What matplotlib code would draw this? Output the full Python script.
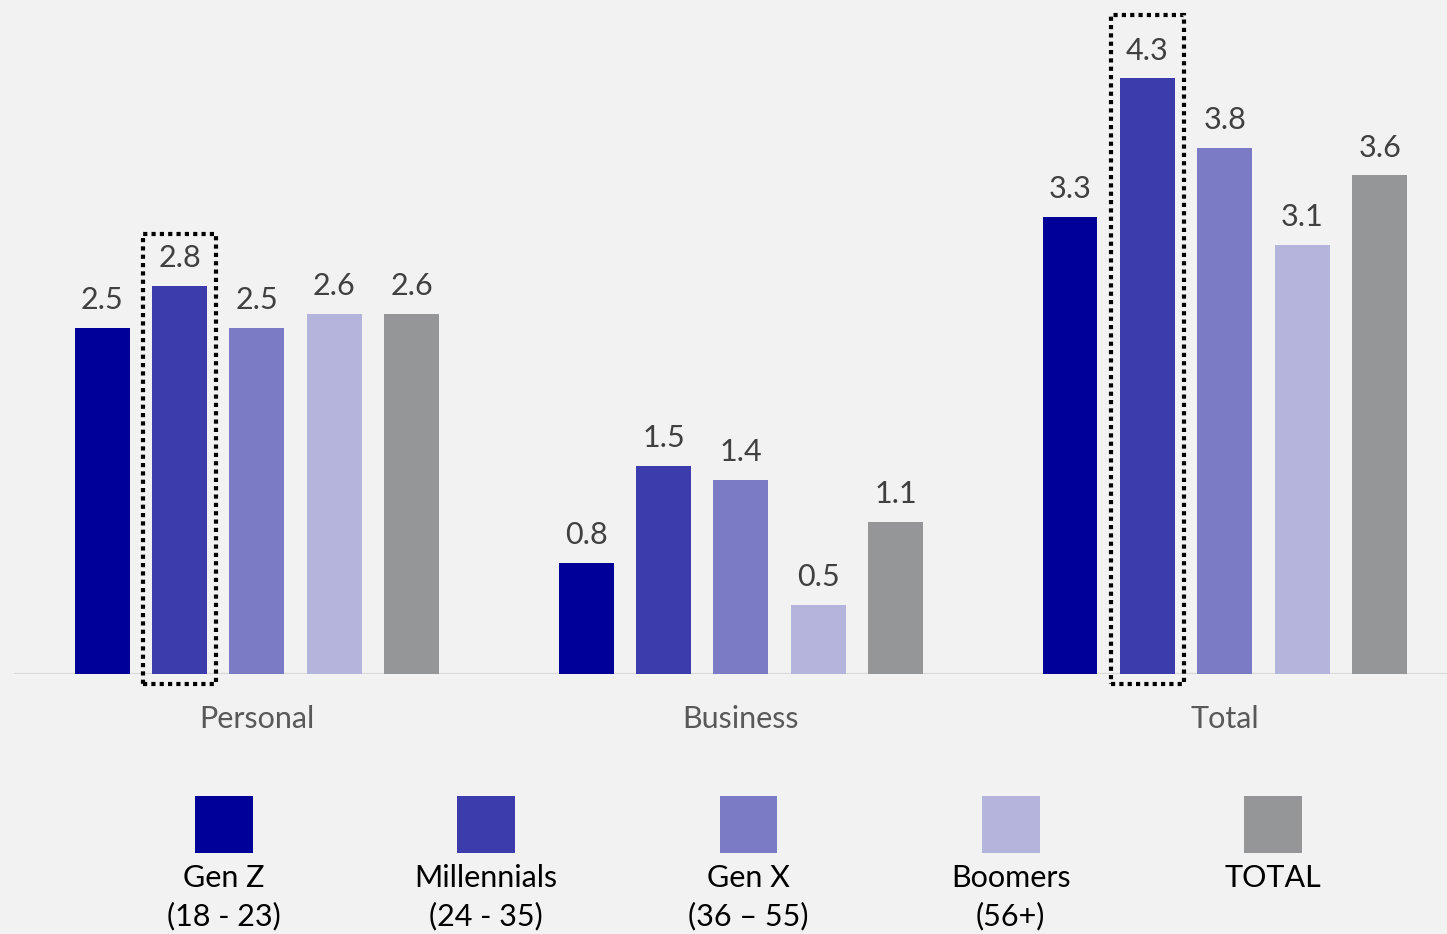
import numpy as np
import matplotlib
matplotlib.use('Agg')
import matplotlib.pyplot as plt
from matplotlib.patches import Rectangle

plt.rcParams['font.family'] = ['Lato', 'DejaVu Sans']

categories = ['Personal', 'Business', 'Total']
series = ['Gen Z', 'Millennials', 'Gen X', 'Boomers', 'TOTAL']
series_labels = ['Gen Z\n(18 - 23)', 'Millennials\n(24 - 35)', 'Gen X\n(36 \u2013 55)',
                 'Boomers\n(56+)', 'TOTAL']
gen_z = [2.5, 0.8, 3.3]
millennials = [2.8, 1.5, 4.3]
gen_x = [2.5, 1.4, 3.8]
boomers = [2.6, 0.5, 3.1]
total = [2.6, 1.1, 3.6]
values = [gen_z, millennials, gen_x, boomers, total]

colors = ['#000099', '#3c3cad', '#7b7bc5', '#b4b4dc', '#959698']
# highlighted (series, category) -> extra height of the dotted box above the bar
highlights = {(1, 0): 0.38, (1, 2): 0.455}

W, H = 1447, 934
fig = plt.figure(figsize=(W / 100, H / 100), dpi=100)
fig.patch.set_facecolor('#f2f2f2')

base = 674
ax = fig.add_axes([14 / W, (H - base) / H, (W - 14) / W, base / H])
ax.set_facecolor('#f2f2f2')
ax.set_xlim(-0.502, 2.459)
ax.set_ylim(0, base / 138.5)
ax.axis('off')

x = np.arange(len(categories))
step = 0.16
width = 0.1136
for i, vals in enumerate(values):
    xs = x + (i - 2) * step
    ax.bar(xs, vals, width=width, color=colors[i], zorder=2)
    for xi, v in zip(xs, vals):
        ax.text(xi, v + 0.1, f'{v:.1f}', ha='center', va='bottom',
                fontsize=22, color='#404040')

ax.axhline(0, color='#d9d9d9', lw=1.6, zorder=1)

pad = 0.018
for (si, ci), top in highlights.items():
    xc = x[ci] + (si - 2) * step
    v = values[si][ci]
    ax.add_patch(Rectangle((xc - width / 2 - pad, -0.072), width + 2 * pad,
                           v + top + 0.072, fill=False, edgecolor='black',
                           lw=3, linestyle=(0, (1.0, 1.0)), clip_on=False,
                           zorder=3, capstyle='butt'))

for xi, c in zip(x, categories):
    ax.text(xi, -45 / 138.5, c, ha='center', va='center', fontsize=22,
            color='#595959')

# legend row
leg = fig.add_axes([93 / W, 0, 1311 / W, 154 / H])
leg.set_facecolor('#f2f2f2')
leg.set_xlim(-0.5, 4.5)
leg.set_ylim(0, 154)
leg.axis('off')
lx = np.arange(len(series))
leg.bar(lx, 57, bottom=81, width=0.22, color=colors)
for xi, lab in zip(lx, series_labels):
    for k, line in enumerate(lab.split('\n')):
        leg.text(xi, 56 - 38 * k, line, ha='center', va='center',
                 fontsize=22, color='black')

fig.savefig('out.png', dpi=100, facecolor=fig.get_facecolor())
